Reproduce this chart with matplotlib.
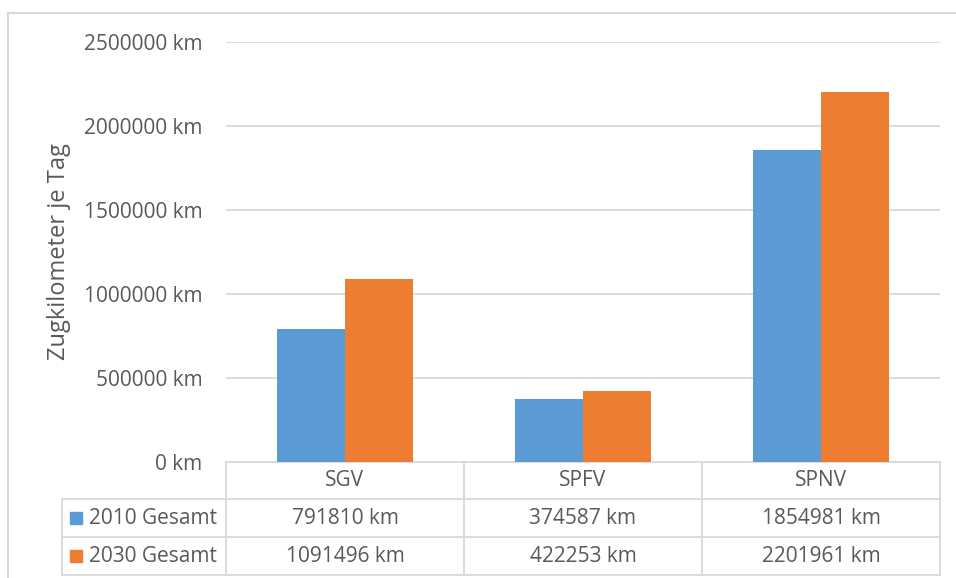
import matplotlib
matplotlib.use("Agg")
import matplotlib.pyplot as plt
from matplotlib.patches import Rectangle
import numpy as np

categories = ["SGV", "SPFV", "SPNV"]
series_names = ["2010 Gesamt", "2030 Gesamt"]
values_2010 = [791810, 374587, 1854981]
values_2030 = [1091496, 422253, 2201961]
yticks = [0, 500000, 1000000, 1500000, 2000000, 2500000]
ylabel = "Zugkilometer je Tag"
colors = ["#5B9BD5", "#ED7D31"]

plt.rcParams['font.family'] = ['Open Sans', 'DejaVu Sans']
TXT = "#595959"
GRID = "#D9D9D9"

W, H = 956, 578
fig = plt.figure(figsize=(W / 100, H / 100), dpi=100)

def fx(px):
    return px / W

def fy(py):
    return 1 - py / H

# plot area in pixel coordinates
L, R, T, B = 226, 940, 42, 462
ax = fig.add_axes([fx(L), fy(B), fx(R - L), (B - T) / H])
n = len(categories)
x = np.arange(n)
bw = 0.2857
ax.bar(x - bw / 2, values_2010, width=bw, color=colors[0], label=series_names[0], zorder=3)
ax.bar(x + bw / 2, values_2030, width=bw, color=colors[1], label=series_names[1], zorder=3)
ax.set_xlim(-0.5, n - 0.5)
ax.set_ylim(0, 2500000)
ax.set_yticks(yticks)
ax.set_yticklabels([f"{v} km" for v in yticks])
ax.tick_params(axis='y', length=0, pad=17, labelsize=15, labelcolor=TXT)
ax.set_xticks([])
for s in ax.spines.values():
    s.set_visible(False)
ax.yaxis.grid(True, color=GRID, linewidth=1.3, zorder=0)
ax.set_axisbelow(True)
fig.text(fx(59), fy((T + B) / 2), ylabel, rotation=90, ha='center', va='center',
         fontsize=17, color=TXT)

# data table below, in pixel coordinates
tax = fig.add_axes([0, 0, 1, 1], zorder=-1)
tax.set_xlim(0, W)
tax.set_ylim(H, 0)
tax.axis('off')

col_w = (R - L) / n
col_edges = [L + i * col_w for i in range(n + 1)]
row_edges = [462, 499, 537, 575]
LEG_L = 62
lw = 1.3
# outer chart frame (cropped at right/bottom)
tax.plot([8, 8], [13, H + 5], color=GRID, lw=1.5)
tax.plot([8, W + 5], [13, 13], color=GRID, lw=1.5)

# horizontal lines
tax.plot([L, R], [row_edges[0]] * 2, color=GRID, lw=lw)
for yy in row_edges[1:]:
    tax.plot([LEG_L, R], [yy] * 2, color=GRID, lw=lw)
# vertical lines
for xx in col_edges:
    tax.plot([xx, xx], [row_edges[0], row_edges[-1]], color=GRID, lw=lw)
tax.plot([LEG_L, LEG_L], [row_edges[1], row_edges[-1]], color=GRID, lw=lw)

fs = 15
for i, c in enumerate(categories):
    cx = (col_edges[i] + col_edges[i + 1]) / 2
    tax.text(cx, (row_edges[0] + row_edges[1]) / 2, c, ha='center', va='center',
             fontsize=fs, color=TXT)
for r, (name, vals) in enumerate(zip(series_names, [values_2010, values_2030])):
    cy = (row_edges[r + 1] + row_edges[r + 2]) / 2
    tax.add_patch(Rectangle((70, cy - 6), 12, 12, color=colors[r]))
    tax.text(89, cy, name, ha='left', va='center', fontsize=fs, color=TXT)
    for i, v in enumerate(vals):
        cx = (col_edges[i] + col_edges[i + 1]) / 2
        tax.text(cx, cy, f"{v} km", ha='center', va='center', fontsize=fs, color=TXT)

fig.savefig("out.png", dpi=100, facecolor="white")
